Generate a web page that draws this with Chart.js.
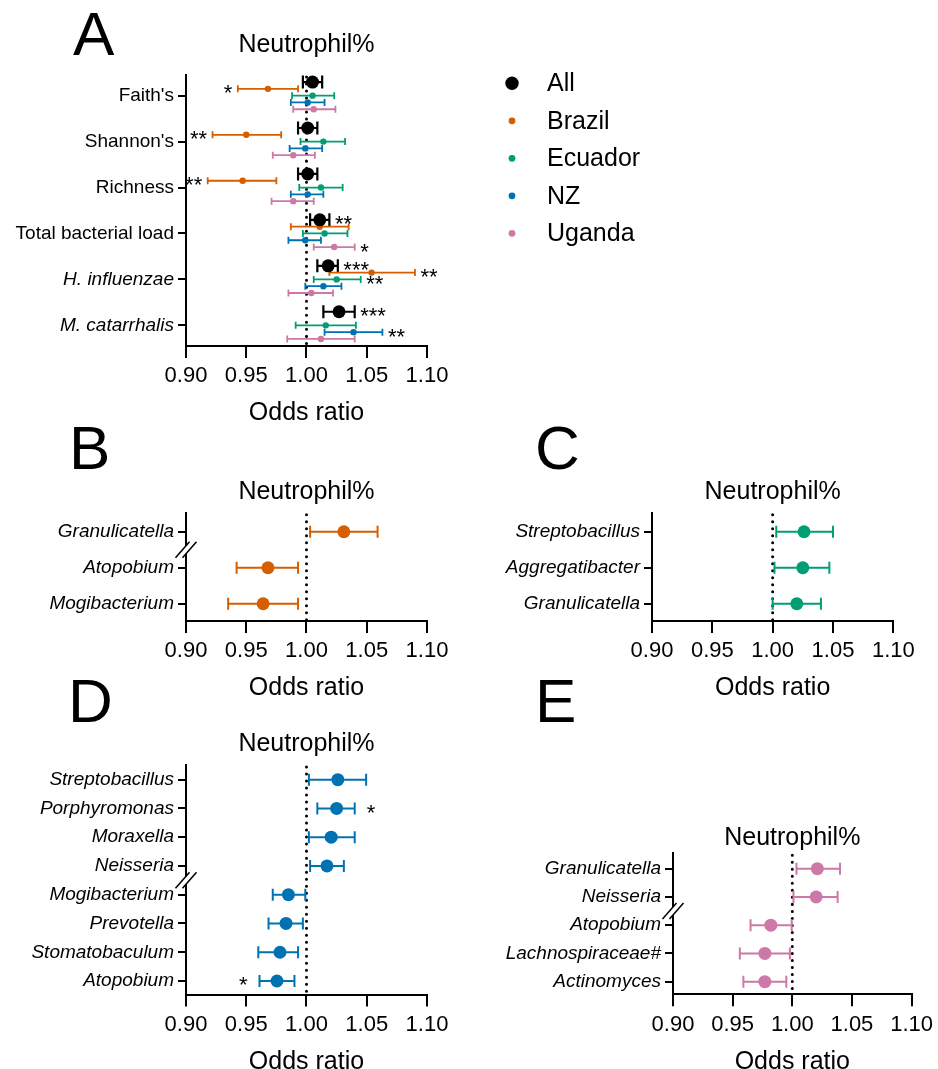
<!DOCTYPE html>
<html>
<head>
<meta charset="utf-8">
<script src="https://cdn.jsdelivr.net/npm/chart.js@4.4.1/dist/chart.umd.min.js"></script>
<style>
html,body{margin:0;padding:0;background:#fff;overflow:hidden;}
#wrap{position:relative;width:938px;height:1069px;overflow:hidden;background:#fff;}
canvas{position:absolute;}
.lt{position:absolute;font-family:"Liberation Sans",Arial,Helvetica,sans-serif;font-size:62px;line-height:62px;color:#000;}
</style>
</head>
<body>
<div id="wrap">
  <canvas id="cA" width="938" height="430" style="left:0;top:0"></canvas>
  <canvas id="cB" width="470" height="275" style="left:0;top:430px"></canvas>
  <canvas id="cC" width="468" height="275" style="left:470px;top:430px"></canvas>
  <canvas id="cD" width="470" height="374" style="left:0;top:705px"></canvas>
  <canvas id="cE" width="468" height="374" style="left:470px;top:705px"></canvas>
  <div class="lt" style="left:73px;top:3px">A</div>
  <div class="lt" style="left:69px;top:417px">B</div>
  <div class="lt" style="left:535px;top:417px">C</div>
  <div class="lt" style="left:68px;top:670px">D</div>
  <div class="lt" style="left:535px;top:670px">E</div>
</div>
<script>
// ---------------- shared axis values ----------------
const xTicks = [0.90, 0.95, 1.00, 1.05, 1.10];
const xTickLabels = ["0.90", "0.95", "1.00", "1.05", "1.10"];
const refOR = 1.00;
const panelTitle = "Neutrophil%";
const xTitle = "Odds ratio";

// ---------------- Panel A ----------------
const catsA = ["Faith's", "Shannon's", "Richness", "Total bacterial load", "H. influenzae", "M. catarrhalis"];
const seriesA = ["All", "Brazil", "Ecuador", "NZ", "Uganda"];
const orAll = [1.005, 1.001, 1.001, 1.011, 1.018, 1.027];
const loAll = [0.997, 0.993, 0.993, 1.003, 1.009, 1.014];
const hiAll = [1.013, 1.009, 1.009, 1.019, 1.026, 1.040];
const sigAll = ["", "", "", "**", "***", "***"];
const orBrazil = [0.968, 0.950, 0.947, 1.011, 1.054, null];
const loBrazil = [0.943, 0.922, 0.918, 0.987, 1.019, null];
const hiBrazil = [0.993, 0.979, 0.975, 1.035, 1.090, null];
const sigBrazil = ["*", "**", "**", "", "**", ""];
const orEcuador = [1.005, 1.014, 1.012, 1.015, 1.025, 1.016];
const loEcuador = [0.988, 0.995, 0.994, 0.997, 1.006, 0.991];
const hiEcuador = [1.023, 1.032, 1.030, 1.034, 1.045, 1.041];
const sigEcuador = ["", "", "", "", "**", ""];
const orNZ = [1.001, 0.999, 1.001, 0.999, 1.014, 1.039];
const loNZ = [0.987, 0.986, 0.987, 0.985, 0.999, 1.015];
const hiNZ = [1.015, 1.013, 1.014, 1.012, 1.029, 1.063];
const sigNZ = ["", "", "", "", "", "**"];
const orUganda = [1.006, 0.989, 0.989, 1.023, 1.004, 1.012];
const loUganda = [0.989, 0.972, 0.971, 1.006, 0.985, 0.984];
const hiUganda = [1.024, 1.007, 1.006, 1.040, 1.022, 1.040];
const sigUganda = ["", "", "", "*", "", ""];

// ---------------- Panel B (Brazil) ----------------
const catsB = ["Granulicatella", "Atopobium", "Mogibacterium"];
const orB = [1.031, 0.968, 0.964];
const loB = [1.003, 0.942, 0.935];
const hiB = [1.059, 0.993, 0.993];

// ---------------- Panel C (Ecuador) ----------------
const catsC = ["Streptobacillus", "Aggregatibacter", "Granulicatella"];
const orC = [1.026, 1.025, 1.020];
const loC = [1.003, 1.0015, 1.000];
const hiC = [1.050, 1.047, 1.040];

// ---------------- Panel D (NZ) ----------------
const catsD = ["Streptobacillus", "Porphyromonas", "Moraxella", "Neisseria", "Mogibacterium", "Prevotella", "Stomatobaculum", "Atopobium"];
const orD = [1.026, 1.025, 1.0205, 1.017, 0.985, 0.983, 0.978, 0.9755];
const loD = [1.002, 1.009, 1.002, 1.003, 0.972, 0.9685, 0.960, 0.961];
const hiD = [1.0495, 1.040, 1.040, 1.031, 0.999, 0.997, 0.993, 0.990];
const sigD = ["", "*", "", "", "", "", "", "*"];

// ---------------- Panel E (Uganda) ----------------
const catsE = ["Granulicatella", "Neisseria", "Atopobium", "Lachnospiraceae#", "Actinomyces"];
const orE = [1.021, 1.020, 0.982, 0.977, 0.977];
const loE = [1.0035, 1.001, 0.965, 0.956, 0.959];
const hiE = [1.040, 1.038, 0.9995, 0.998, 0.995];

// ---------------- styles ----------------
const colorAll = "#000000", colorBrazil = "#D55E00", colorEcuador = "#009E73", colorNZ = "#0072B2", colorUganda = "#CC79A7";
const FONT = '"Liberation Sans", Arial, Helvetica, sans-serif';
Chart.defaults.font.family = FONT;
Chart.defaults.color = '#000';

function pts(or, lo, hi, sig, shift) {
  const out = [];
  or.forEach((v, i) => {
    if (v == null) return;
    out.push({x: v, y: i + shift, lo: lo[i], hi: hi[i], sig: sig ? sig[i] : ""});
  });
  return out;
}

const forestPlugin = {
  id: 'forest',
  beforeDatasetsDraw(chart, args, opts) {
    const {ctx, chartArea, scales: {x, y}} = chart;
    const px = x.getPixelForValue(refOR);
    ctx.save();
    ctx.strokeStyle = '#000'; ctx.lineWidth = 3; ctx.lineCap = 'round';
    ctx.setLineDash([0.01, 7]);
    ctx.beginPath(); ctx.moveTo(px, chartArea.top + 2); ctx.lineTo(px, chartArea.bottom); ctx.stroke();
    ctx.restore();
    chart.data.datasets.forEach(ds => {
      ds.data.forEach(pt => {
        const yp = y.getPixelForValue(pt.y);
        const x1 = x.getPixelForValue(pt.lo), x2 = x.getPixelForValue(pt.hi);
        ctx.save();
        ctx.strokeStyle = ds.backgroundColor; ctx.lineWidth = ds.barWidth; ctx.lineCap = 'butt';
        ctx.beginPath();
        ctx.moveTo(x1, yp); ctx.lineTo(x2, yp);
        ctx.moveTo(x1, yp - ds.cap); ctx.lineTo(x1, yp + ds.cap);
        ctx.moveTo(x2, yp - ds.cap); ctx.lineTo(x2, yp + ds.cap);
        ctx.stroke();
        ctx.restore();
      });
    });
  },
  afterDraw(chart, args, opts) {
    const {ctx, chartArea, scales: {x, y}} = chart;
    // significance marks
    ctx.save();
    ctx.fillStyle = '#000';
    ctx.font = '22px ' + FONT;
    ctx.textBaseline = 'alphabetic';
    chart.data.datasets.forEach(ds => {
      ds.data.forEach(pt => {
        if (!pt.sig) return;
        const yp = y.getPixelForValue(pt.y) + 11.5;
        if (pt.x < refOR) {
          ctx.textAlign = 'right';
          ctx.fillText(pt.sig, x.getPixelForValue(pt.lo) - opts.starGap, yp);
        } else {
          ctx.textAlign = 'left';
          ctx.fillText(pt.sig, x.getPixelForValue(pt.hi) + opts.starGap, yp);
        }
      });
    });
    ctx.restore();
    // axis breaks
    (opts.breaks || []).forEach(b => {
      const yc = y.getPixelForValue(b);
      const ax = chartArea.left;
      ctx.save();
      ctx.fillStyle = '#fff';
      ctx.fillRect(ax - 2, yc - 4, 4, 8);
      ctx.strokeStyle = '#000'; ctx.lineWidth = 1.5;
      [-3.5, 3.5].forEach(off => {
        ctx.beginPath();
        ctx.moveTo(ax + off - 7, yc + 8);
        ctx.lineTo(ax + off + 7, yc - 8);
        ctx.stroke();
      });
      ctx.restore();
    });
    // legend
    if (opts.legend) {
      const L = opts.legend;
      ctx.save();
      ctx.font = '25px ' + FONT;
      ctx.textBaseline = 'middle';
      ctx.textAlign = 'left';
      chart.data.datasets.forEach((ds, i) => {
        const yy = L.y0 + i * L.dy;
        ctx.fillStyle = ds.backgroundColor;
        ctx.beginPath(); ctx.arc(L.x, yy, ds.pointRadius + 0.2, 0, Math.PI * 2); ctx.fill();
        ctx.fillStyle = '#000';
        ctx.fillText(ds.label, L.textX, yy + 1);
      });
      ctx.restore();
    }
  }
};

function xScale(h) {
  return {
    type: 'linear', min: 0.9, max: 1.1,
    afterBuildTicks: s => { s.ticks = xTicks.map(v => ({value: v})); },
    afterFit: s => { s.height = h; },
    ticks: { callback: (v, i) => xTickLabels[i], font: {size: 22}, color: '#000', padding: 5, maxRotation: 0, autoSkip: false },
    grid: { display: true, drawOnChartArea: false, drawTicks: true, tickLength: 12, color: '#000', lineWidth: 2 },
    border: { display: true, color: '#000', width: 2 },
    title: { display: true, text: xTitle, font: {size: 25}, color: '#000', padding: {top: 0, bottom: 2} }
  };
}
function yScale(cats, italic, min, max, w) {
  return {
    type: 'linear', reverse: true, min: min, max: max,
    afterBuildTicks: s => { s.ticks = cats.map((c, i) => ({value: i})); },
    afterFit: s => { s.width = w; },
    ticks: {
      callback: (v, i) => cats[i],
      font: c => ({size: 19, style: italic[c.index] ? 'italic' : 'normal'}),
      color: '#000', padding: 4, autoSkip: false
    },
    grid: { display: true, drawOnChartArea: false, drawTicks: true, tickLength: 8, color: '#000', lineWidth: 2 },
    border: { display: true, color: '#000', width: 2 }
  };
}

function makeChart(id, o) {
  return new Chart(document.getElementById(id), {
    type: 'scatter',
    data: { datasets: o.datasets },
    options: {
      responsive: false, animation: false, events: [],
      layout: { padding: o.padding },
      plugins: {
        legend: { display: false }, tooltip: { enabled: false },
        title: { display: true, text: panelTitle, font: {size: 25, weight: 'normal'}, color: '#000', fullSize: false, padding: {top: 0, bottom: o.titlePad} },
        forest: { breaks: o.breaks || [], starGap: o.starGap || 6, legend: o.legend || null }
      },
      scales: { x: xScale(o.xHeight), y: yScale(o.cats, o.italic, o.yMin, o.yMax, o.yWidth) }
    },
    plugins: [forestPlugin]
  });
}

function single(label, color, or, lo, hi, sig) {
  return [{ label: label, data: pts(or, lo, hi, sig, 0), backgroundColor: color, pointRadius: 6.5, borderWidth: 0, cap: 6, barWidth: 2 }];
}

// Panel A
const rowStep = 0.148;
const aOr = [orAll, orBrazil, orEcuador, orNZ, orUganda];
const aLo = [loAll, loBrazil, loEcuador, loNZ, loUganda];
const aHi = [hiAll, hiBrazil, hiEcuador, hiNZ, hiUganda];
const aSig = [sigAll, sigBrazil, sigEcuador, sigNZ, sigUganda];
const aCol = [colorAll, colorBrazil, colorEcuador, colorNZ, colorUganda];
const dsA = seriesA.map((name, si) => ({
  label: name,
  data: pts(aOr[si], aLo[si], aHi[si], aSig[si], (si - 2) * rowStep),
  backgroundColor: aCol[si],
  pointRadius: si === 0 ? 6.5 : 3.2,
  borderWidth: 0,
  cap: si === 0 ? 6.5 : 3.5,
  barWidth: si === 0 ? 2.2 : 1.8
}));

makeChart('cA', {
  datasets: dsA, cats: catsA, italic: [false, false, false, false, true, true],
  yMin: -0.45, yMax: 5.45, yWidth: 186, xHeight: 84,
  padding: {left: 0, right: 511, top: 30, bottom: 0}, titlePad: 15, starGap: 5.5,
  legend: {x: 512, textX: 547, y0: 83.3, dy: 37.5}
});
makeChart('cB', {
  datasets: single("Brazil", colorBrazil, orB, loB, hiB, null), cats: catsB, italic: catsB.map(() => true),
  yMin: -0.53, yMax: 2.48, yWidth: 186, xHeight: 84,
  padding: {left: 0, right: 43, top: 47.5, bottom: 0}, titlePad: 5.2, breaks: [0.5]
});
makeChart('cC', {
  datasets: single("Ecuador", colorEcuador, orC, loC, hiC, null), cats: catsC, italic: catsC.map(() => true),
  yMin: -0.53, yMax: 2.48, yWidth: 182, xHeight: 84,
  padding: {left: 0, right: 44.7, top: 47.5, bottom: 0}, titlePad: 5.2
});
makeChart('cD', {
  datasets: single("NZ", colorNZ, orD, loD, hiD, sigD), cats: catsD, italic: catsD.map(() => true),
  yMin: -0.51, yMax: 7.47, yWidth: 186, xHeight: 84.5,
  padding: {left: 0, right: 43, top: 24, bottom: 0}, titlePad: 6, breaks: [3.5], starGap: 12
});
makeChart('cE', {
  datasets: single("Uganda", colorUganda, orE, loE, hiE, null), cats: catsE, italic: catsE.map(() => true),
  yMin: -0.545, yMax: 4.446, yWidth: 203, xHeight: 84.7,
  padding: {left: 0, right: 23.7, top: 118, bottom: 0}, titlePad: 0.3, breaks: [1.5]
});
</script>
</body>
</html>
